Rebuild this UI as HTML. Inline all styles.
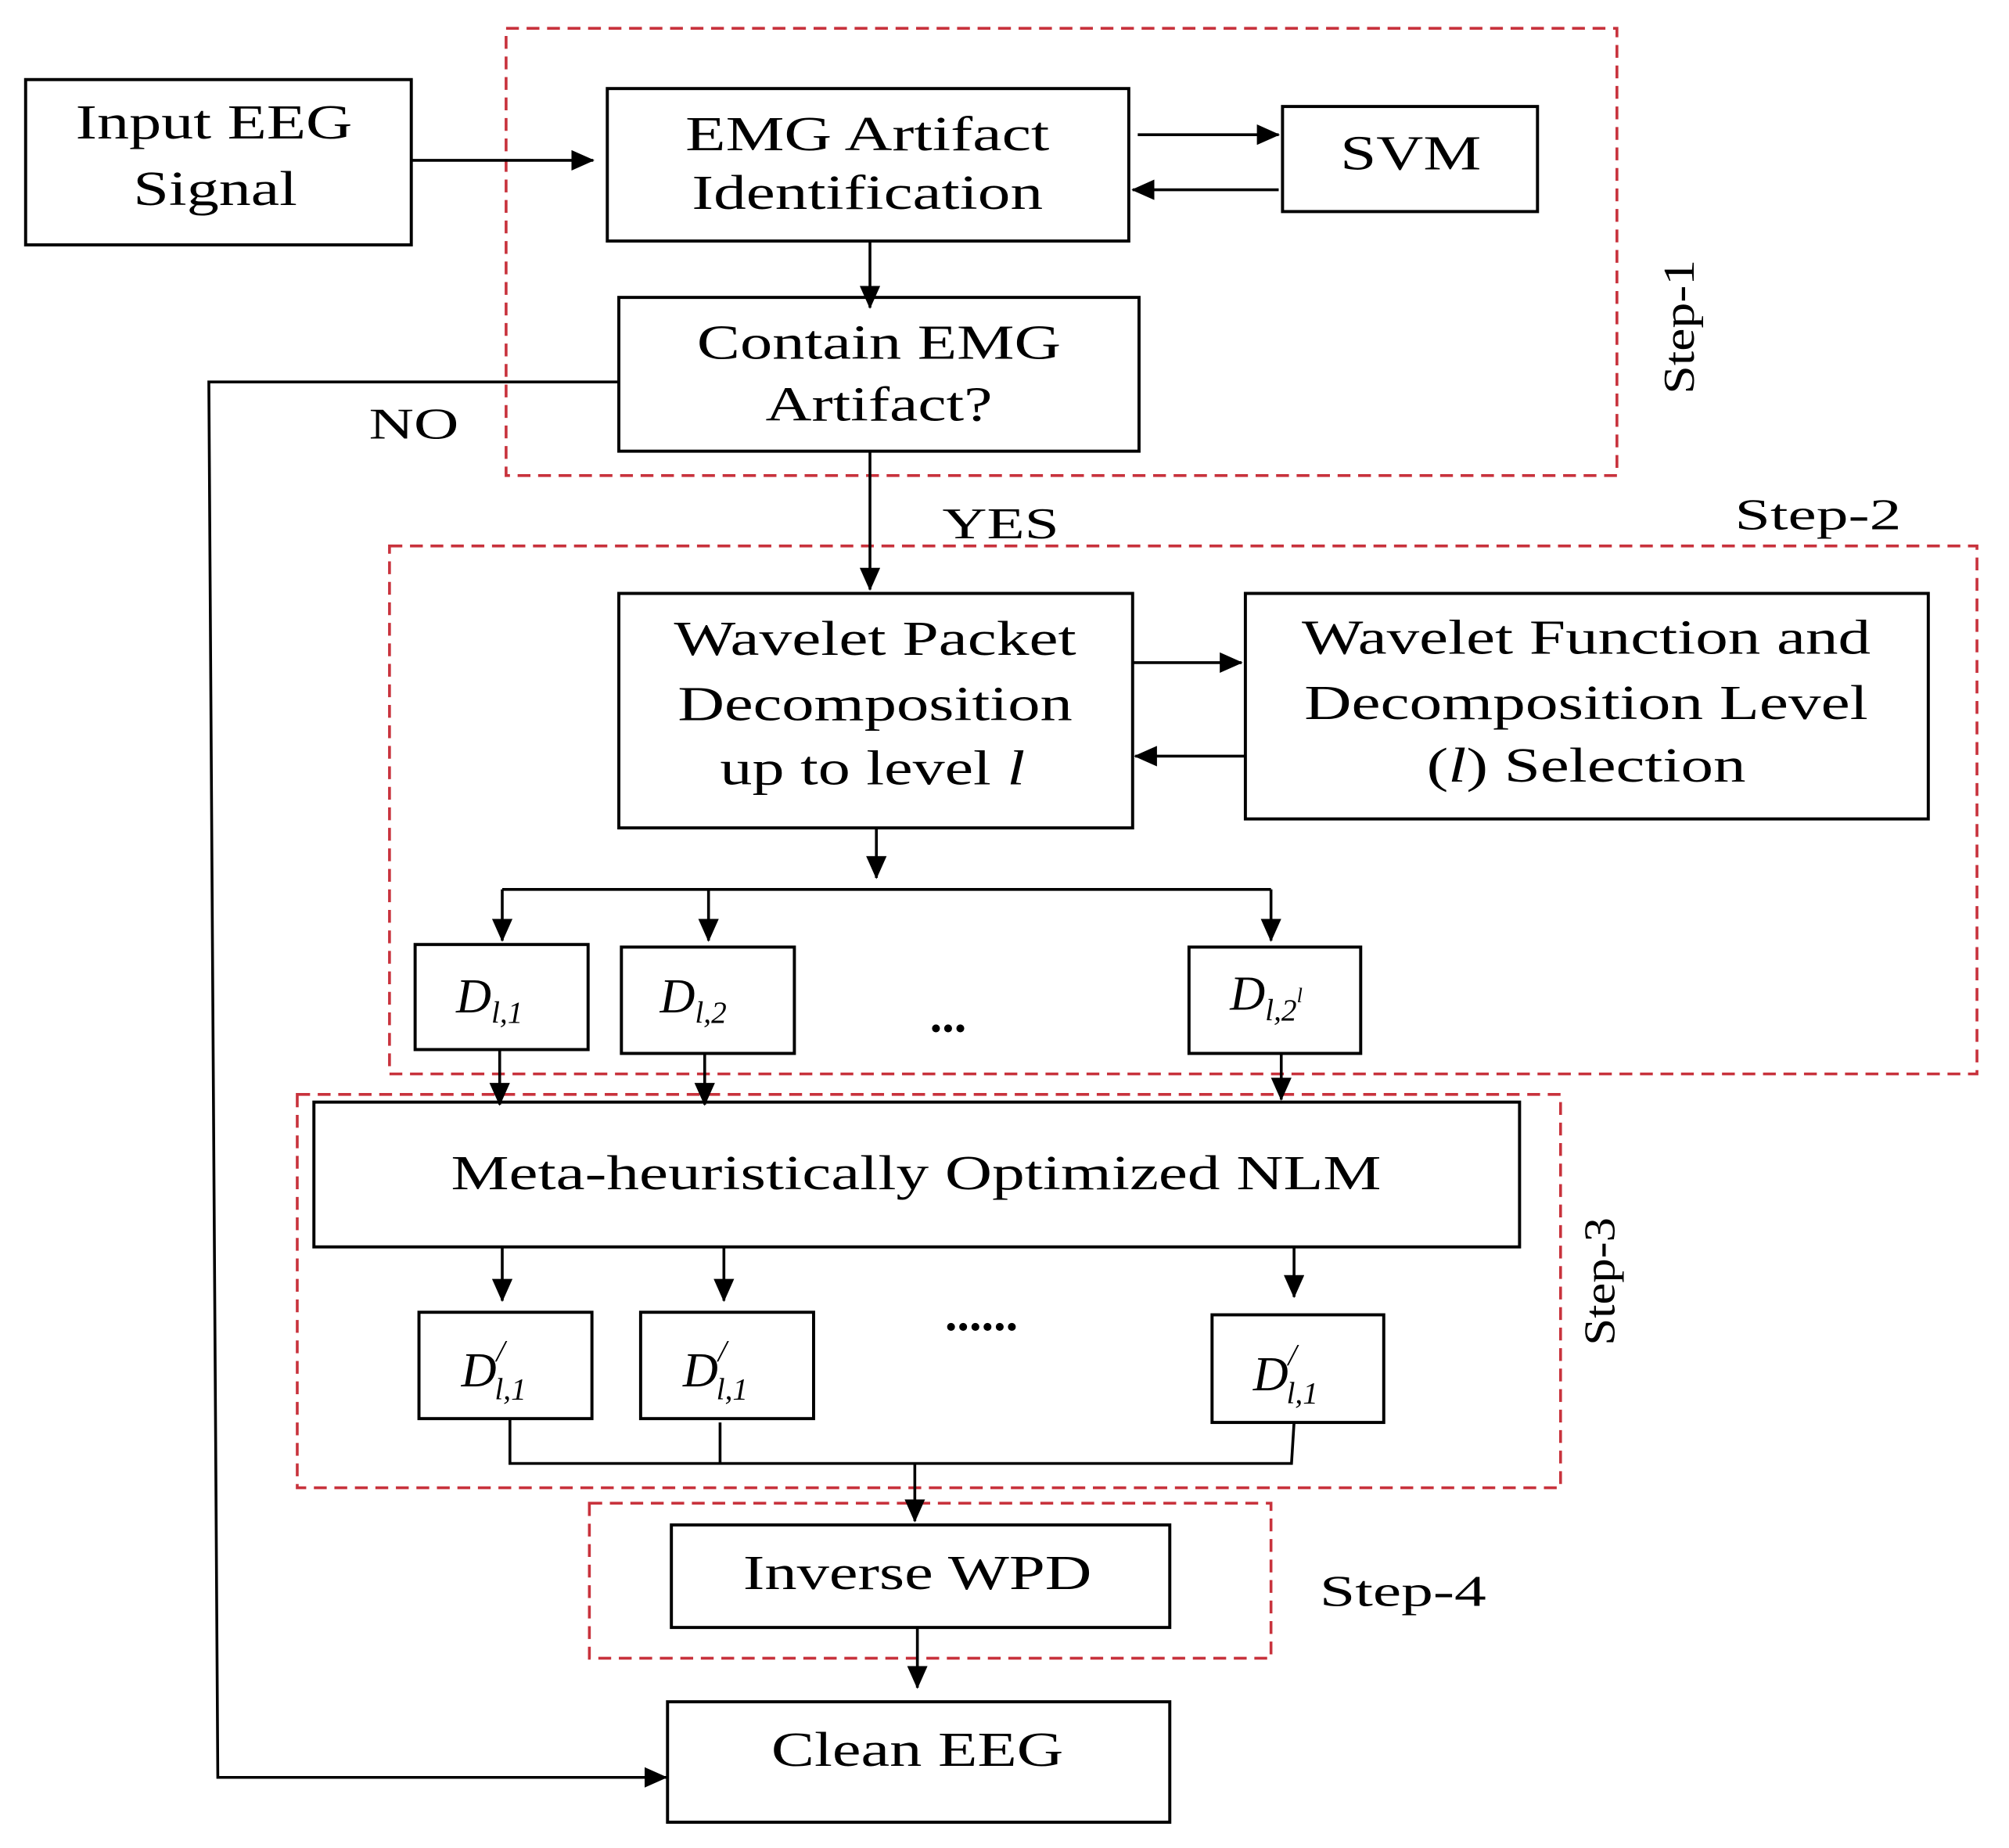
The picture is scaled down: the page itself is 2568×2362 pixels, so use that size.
<!DOCTYPE html>
<html><head><meta charset="utf-8"><style>html,body{margin:0;padding:0;background:#fff}svg{display:block}</style></head>
<body>
<svg width="2568" height="2362" viewBox="0 0 1568 1442" xmlns="http://www.w3.org/2000/svg" font-family="Liberation Serif, serif">
<defs>
<marker id="b" markerWidth="18" markerHeight="16" refX="17" refY="8" orient="auto" markerUnits="userSpaceOnUse"><path d="M0,0 L18,8 L0,16 Z" fill="#000"/></marker>
</defs>
<rect width="1568" height="1442" fill="#fff"/>
<g fill="none" stroke="#c8323c" stroke-width="2.2" stroke-dasharray="10,6">
<rect x="395" y="22" width="867" height="349"/>
<rect x="304" y="426" width="1239" height="412"/>
<rect x="232" y="854" width="986" height="307"/>
<rect x="460" y="1173" width="532" height="121"/>
</g>
<g fill="none" stroke="#000" stroke-width="2.4">
<rect x="20" y="62" width="301" height="129"/>
<rect x="474" y="69" width="407" height="119"/>
<rect x="1001" y="83" width="199" height="82"/>
<rect x="483" y="232" width="406" height="120"/>
<rect x="483" y="463" width="401" height="183"/>
<rect x="972" y="463" width="533" height="176"/>
<rect x="324" y="737" width="135" height="82"/>
<rect x="485" y="739" width="135" height="83"/>
<rect x="928" y="739" width="134" height="83"/>
<rect x="245" y="860" width="941" height="113"/>
<rect x="327" y="1024" width="135" height="83"/>
<rect x="500" y="1024" width="135" height="83"/>
<rect x="946" y="1026" width="134" height="84"/>
<rect x="524" y="1190" width="389" height="80"/>
<rect x="521" y="1328" width="392" height="94"/>
</g>
<g fill="none" stroke="#000" stroke-width="2.2" marker-end="url(#b)">
<line x1="321" y1="125" x2="463" y2="125"/>
<line x1="888" y1="105" x2="998" y2="105"/>
<line x1="998" y1="148" x2="884" y2="148"/>
<line x1="679" y1="188" x2="679" y2="240"/>
<line x1="679" y1="352" x2="679" y2="460"/>
<line x1="884" y1="517" x2="969" y2="517"/>
<line x1="972" y1="590" x2="886" y2="590"/>
<line x1="684" y1="646" x2="684" y2="685"/>
<line x1="392" y1="694" x2="392" y2="734"/>
<line x1="553" y1="694" x2="553" y2="734"/>
<line x1="992" y1="694" x2="992" y2="734"/>
<line x1="390" y1="819" x2="390" y2="862"/>
<line x1="550" y1="822" x2="550" y2="862"/>
<line x1="1000" y1="822" x2="1000" y2="858"/>
<line x1="392" y1="973" x2="392" y2="1015"/>
<line x1="565" y1="973" x2="565" y2="1015"/>
<line x1="1010" y1="973" x2="1010" y2="1012"/>
<line x1="714" y1="1142" x2="714" y2="1187"/>
<line x1="716" y1="1270" x2="716" y2="1317"/>
<polyline points="483,298 163,298 170,1387 520,1387"/>
</g>
<g fill="none" stroke="#000" stroke-width="2.2">
<line x1="392" y1="694" x2="992" y2="694"/>
<polyline points="398,1107 398,1142 1008,1142 1010,1110"/>
<line x1="562" y1="1110" x2="562" y2="1142"/>
</g>
<g font-size="38" text-anchor="middle" fill="#000" lengthAdjust="spacingAndGlyphs">
<text x="167" y="108" textLength="216" lengthAdjust="spacingAndGlyphs">Input EEG</text>
<text x="168" y="160" textLength="128" lengthAdjust="spacingAndGlyphs">Signal</text>
<text x="677" y="117" textLength="284" lengthAdjust="spacingAndGlyphs">EMG Artifact</text>
<text x="677" y="163" textLength="274" lengthAdjust="spacingAndGlyphs">Identification</text>
<text x="1101" y="132" textLength="110" lengthAdjust="spacingAndGlyphs">SVM</text>
<text x="686" y="280" textLength="284" lengthAdjust="spacingAndGlyphs">Contain EMG</text>
<text x="686" y="328" textLength="177" lengthAdjust="spacingAndGlyphs">Artifact?</text>
<text x="323" y="342" font-size="34" textLength="70" lengthAdjust="spacingAndGlyphs">NO</text>
<text x="781" y="420" font-size="34" textLength="91" lengthAdjust="spacingAndGlyphs">YES</text>
<text x="1419" y="413" font-size="34" textLength="130" lengthAdjust="spacingAndGlyphs">Step-2</text>
<text x="683" y="511" textLength="314" lengthAdjust="spacingAndGlyphs">Wavelet Packet</text>
<text x="683" y="562" textLength="308" lengthAdjust="spacingAndGlyphs">Decomposition</text>
<text x="681" y="612" textLength="238" lengthAdjust="spacingAndGlyphs">up to level <tspan font-style="italic">l</tspan></text>
<text x="1238" y="510" textLength="444" lengthAdjust="spacingAndGlyphs">Wavelet Function and</text>
<text x="1238" y="561" textLength="440" lengthAdjust="spacingAndGlyphs">Decomposition Level</text>
<text x="1238" y="610" textLength="249" lengthAdjust="spacingAndGlyphs">(<tspan font-style="italic">l</tspan>) Selection</text>
<text x="715" y="928" textLength="726" lengthAdjust="spacingAndGlyphs">Meta-heuristically Optimized NLM</text>
<text x="716" y="1240" textLength="272" lengthAdjust="spacingAndGlyphs">Inverse WPD</text>
<text x="716" y="1378" textLength="228" lengthAdjust="spacingAndGlyphs">Clean EEG</text>
<text x="1095" y="1253" font-size="34" textLength="130" lengthAdjust="spacingAndGlyphs">Step-4</text>
<text x="740" y="805" font-weight="bold">...</text>
<text x="766" y="1038" font-weight="bold">......</text>
</g>
<g font-size="34" fill="#000">
<text transform="translate(1322,255) rotate(-90)" text-anchor="middle" textLength="105" lengthAdjust="spacingAndGlyphs">Step-1</text>
<text transform="translate(1260,1000) rotate(-90)" text-anchor="middle" textLength="100" lengthAdjust="spacingAndGlyphs">Step-3</text>
</g>
<g font-size="38" fill="#000" font-style="italic">
<text x="356" y="790">D<tspan font-size="24" dy="8">l,1</tspan></text>
<text x="515" y="790">D<tspan font-size="24" dy="8">l,2</tspan></text>
<text x="960" y="788">D<tspan font-size="24" dy="8">l,2</tspan><tspan font-size="16" dy="-14">l</tspan></text>
<text x="360" y="1082">D<tspan font-size="24" dy="-20">/</tspan><tspan font-size="24" dx="-8" dy="30">l,1</tspan></text>
<text x="533" y="1082">D<tspan font-size="24" dy="-20">/</tspan><tspan font-size="24" dx="-8" dy="30">l,1</tspan></text>
<text x="978" y="1085">D<tspan font-size="24" dy="-20">/</tspan><tspan font-size="24" dx="-8" dy="30">l,1</tspan></text>
</g>
</svg>
</body></html>
